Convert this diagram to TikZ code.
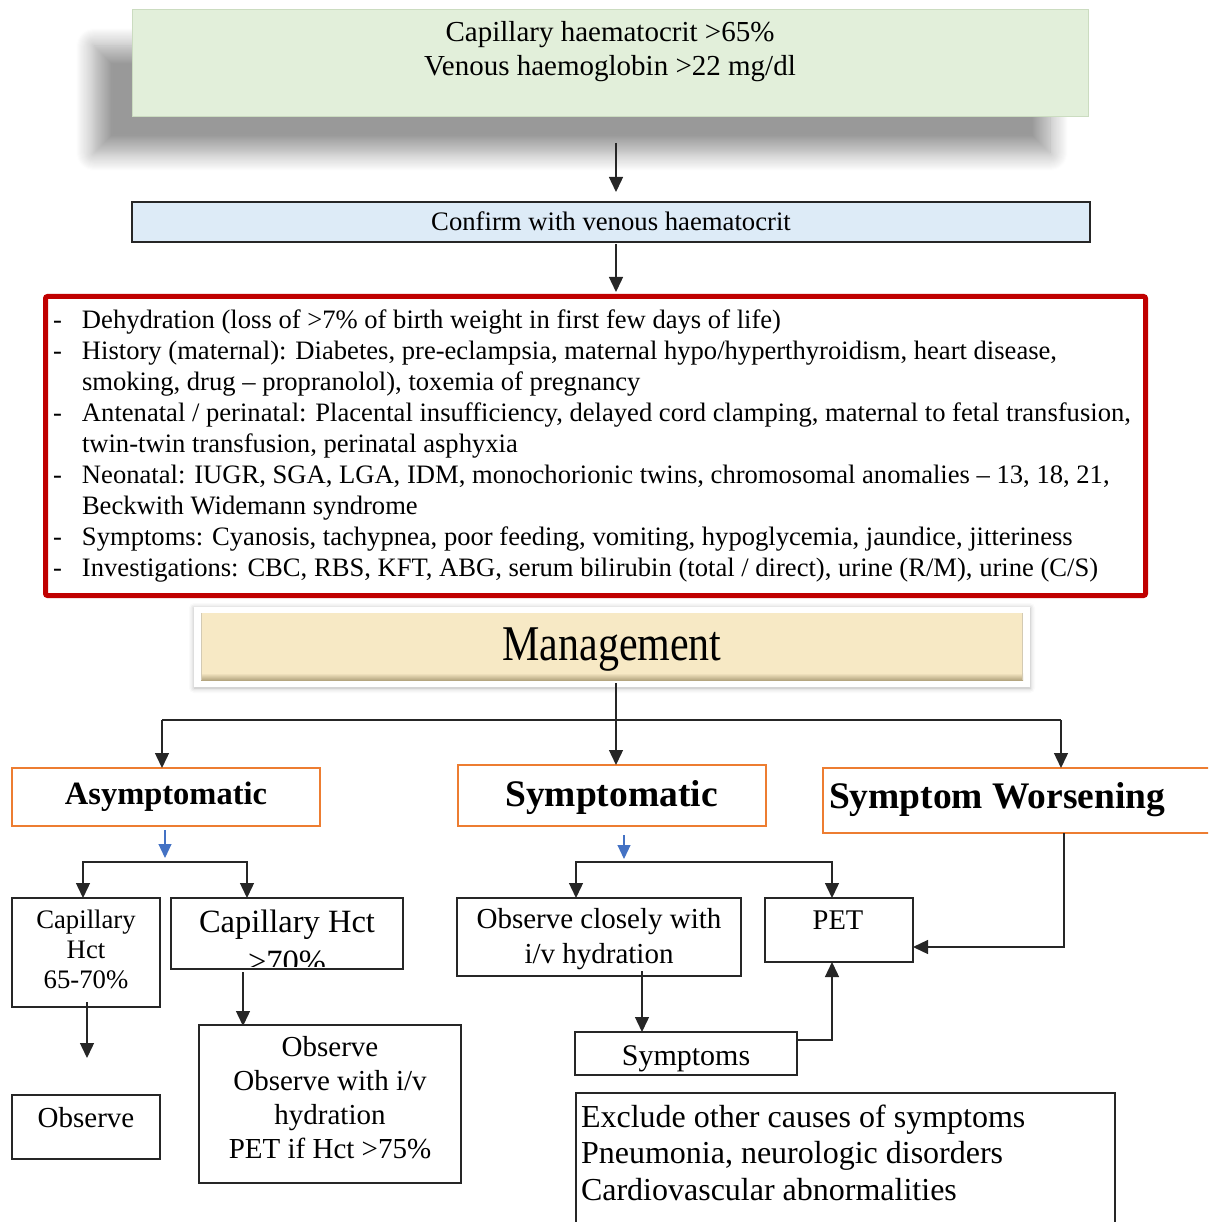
\documentclass[tikz,border=0pt]{standalone}
\usepackage{fontspec}
\usepackage{graphicx}
\setmainfont{Liberation Serif}
\usetikzlibrary{arrows.meta,shadows.blur,fit}
\definecolor{mintfill}{HTML}{E2EFDA}
\definecolor{mintedge}{HTML}{CBDCC0}
\definecolor{skyfill}{HTML}{DDEBF7}
\definecolor{alertred}{HTML}{C00000}
\definecolor{caseorange}{HTML}{ED7D31}
\definecolor{creamfill}{HTML}{F7E9C5}
\definecolor{creamdark}{HTML}{B5A680}
\definecolor{flowblue}{HTML}{4472C4}
\newcommand{\sz}[2]{\fontsize{#1}{#2}\selectfont}

\begin{document}
\begin{tikzpicture}[x=1pt,y=-1pt,
  >={Triangle[width=14pt,length=15pt]},
  panel/.style={inner sep=0pt, outer sep=0pt},
  plainbox/.style={panel, draw=black!85, line width=1.3pt},
  casebox/.style={panel, draw=caseorange, line width=2.6pt},
  link/.style={draw=black!85, line width=1.4pt},
  bluelink/.style={draw=flowblue, line width=1.1pt, -{Triangle[width=13pt,length=14pt]}},
  % multi-line texts are placed by the baseline of their last line
  words/.style={inner sep=0pt, outer sep=0pt, anchor=base, align=center},
  leftwords/.style={inner sep=0pt, outer sep=0pt, anchor=base west, align=left},
]
\path[use as bounding box] (0,0) rectangle (1208,1222);
\clip (0,0) rectangle (1208,1222);

% entry criteria with a soft drop shadow
\node (criteria) [panel, fill=mintfill, draw=mintedge, line width=1pt, fit={(132,10)(1088,117)},
  blur shadow={shadow xshift=-38pt, shadow yshift=-36pt, shadow blur radius=18pt,
               shadow blur steps=18, shadow opacity=40}] {};
\node (criteriatext) [words, font=\sz{29}{34}] at (610,76)
  {Capillary haematocrit >65\%\\Venous haemoglobin >22 mg/dl};

\coordinate (c1a) at (616,143);
\coordinate (c1b) at (616,192);
\draw[link,->] (c1a) -- (c1b);

% confirmation step
\node (confirm) [plainbox, fill=skyfill, fit={(132,202)(1090,242)}] {};
\node (confirmtext) [words, font=\sz{26.7}{30}] at (611,231) {Confirm with venous haematocrit};

\coordinate (c2a) at (616,244);
\coordinate (c2b) at (616,292);
\draw[link,->] (c2a) -- (c2b);

% causes, symptoms and investigations
\node (causes) [panel, draw=alertred, line width=5pt, rounded corners=2pt,
  fit={(45.5,296.5)(1145.5,595.5)}] {};
\node (causestext) [inner sep=0pt, outer sep=0pt, anchor=base west, font=\sz{26.6}{31}] at (53,328) {%
  \begin{tabular}[t]{@{}p{29pt}@{}l@{}}
  - & Dehydration (loss of >7\% of birth weight in first few days of life)\\
  - & History (maternal): Diabetes, pre-eclampsia, maternal hypo/hyperthyroidism, heart disease,\\
    & smoking, drug – propranolol), toxemia of pregnancy\\
  - & Antenatal / perinatal: Placental insufficiency, delayed cord clamping, maternal to fetal transfusion,\\
    & twin-twin transfusion, perinatal asphyxia\\
  - & Neonatal: IUGR, SGA, LGA, IDM, monochorionic twins, chromosomal anomalies – 13, 18, 21,\\
    & Beckwith Widemann syndrome\\
  - & Symptoms: Cyanosis, tachypnea, poor feeding, vomiting, hypoglycemia, jaundice, jitteriness\\
  - & Investigations: CBC, RBS, KFT, ABG, serum bilirubin (total / direct), urine (R/M), urine (C/S)
  \end{tabular}};

% management heading
\node (mgmtframe) [panel, fill=white, fit={(194,607)(1030,687)},
  blur shadow={shadow xshift=0pt, shadow yshift=-1pt, shadow blur radius=5pt, shadow opacity=30}] {};
\node (mgmt) [panel, fill=creamfill, fit={(201,613)(1023,680)}] {};
\shade[top color=creamfill, bottom color=creamdark] (201,673) rectangle (1023,680);
\draw[creamdark!60, line width=1pt] (201.5,613) -- (201.5,680) (1022.5,613) -- (1022.5,680);
\node (mgmttext) [words, font=\sz{50}{60}] at (612,660) {\scalebox{0.84}[1]{Management}};

% three cases
\node (asym) [casebox, fit={(12,768)(320,826)}] {};
\node (asymtext) [words, font=\bfseries\sz{32.5}{38}] at (166,804) {Asymptomatic};
\node (sym) [casebox, fit={(458,765)(766,826)}] {};
\node (symtext) [words, font=\bfseries\sz{37.5}{44}] at (611.5,806) {Symptomatic};
\node (worse) [casebox, fit={(823,768)(1230,833)}] {};
\node (worsetext) [leftwords, font=\bfseries\sz{37.5}{44}] at (829,808) {Symptom Worsening};

\coordinate (mtop) at (616,683);
\coordinate (mjoin) at (616,720);
\coordinate (mleft) at (162,720);
\coordinate (mright) at (1061,720);
\draw[link] (mtop) -- (mjoin);
\draw[link] (mleft) -- (mright);
\draw[link,->] (mleft) -- (mleft |- asym.north);
\draw[link,->] (mjoin) -- (mjoin |- sym.north);
\draw[link,->] (mright) -- (mright |- worse.north);

\coordinate (ab1) at (165,830);
\coordinate (ab2) at (165,858);
\draw[bluelink] (ab1) -- (ab2);
\coordinate (sb1) at (624,835);
\coordinate (sb2) at (624,859);
\draw[bluelink] (sb1) -- (sb2);

% asymptomatic branch
\node (hct65) [plainbox, fit={(12,898)(160,1007)}] {};
\node (hct65text) [words, font=\sz{26.7}{30}] at (86,988) {Capillary\\Hct\\65-70\%};
\node (hct70) [plainbox, fit={(171,898)(403,969)}] {};
\begin{scope}
  \clip (172,899) rectangle (402,966);
  \node (hct70text) [words, font=\sz{32.5}{40}] at (287,972) {Capillary Hct\\>70\%};
\end{scope}
\draw[link,<->] (hct65.north -| 83,0) -- (83,862) -- (247,862) -- (hct70.north -| 247,0);

\node (observe) [plainbox, fit={(12,1095)(160,1159)}] {};
\node (observetext) [words, font=\sz{29}{34}] at (86,1127) {Observe};
\coordinate (o1) at (87,1002);
\coordinate (o2) at (87,1058);
\draw[link,->] (o1) -- (o2);

\node (hydrate) [plainbox, fit={(199,1025)(461,1183)}] {};
\node (hydratetext) [words, font=\sz{29}{33.7}] at (330,1158)
  {Observe\\Observe with i/v\\hydration\\PET if Hct >75\%};
\draw[link,->] (hct70.south -| 243,0) ++(0,3) -- (243,1026);

% symptomatic branch
\node (close) [plainbox, fit={(457,898)(741,976)}] {};
\node (closetext) [words, font=\sz{29}{35}] at (599,963) {Observe closely with\\i/v hydration};
\node (pet) [plainbox, fit={(765,898)(913,962)}] {};
\node (pettext) [words, font=\sz{28.5}{34}] at (838,929) {PET};
\draw[link,<->] (close.north -| 576,0) -- (576,862) -- (832,862) -- (pet.north -| 832,0);

\draw[link,->] (worse.south -| 1064,0) -- (1064,947) -- (pet.east |- 0,947);

\node (sx) [plainbox, fit={(575,1032)(797,1075)}] {};
\node (sxtext) [words, font=\sz{30}{34}] at (686,1065) {Symptoms};
\coordinate (s1) at (642,971);
\draw[link,->] (s1) -- (s1 |- sx.north);
\draw[link,->] (sx.east |- 0,1040) -- (832,1040) -- (pet.south -| 832,0);

\node (exclude) [plainbox, fit={(576,1093)(1115,1240)}] {};
\node (excludetext) [leftwords, font=\sz{32}{36.5}] at (581,1200)
  {Exclude other causes of symptoms\\Pneumonia, neurologic disorders\\Cardiovascular abnormalities};
\end{tikzpicture}
\end{document}
